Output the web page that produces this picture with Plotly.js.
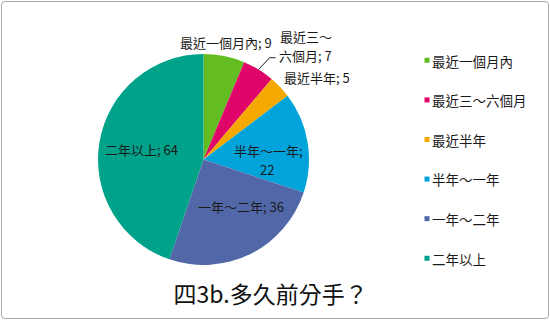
<!DOCTYPE html>
<html><head><meta charset="utf-8">
<script src="https://cdn.plot.ly/plotly-3.0.1.min.js"></script>
<style>
html,body{margin:0;padding:0;background:#fff}
#wrap{position:relative;width:550px;height:321px;overflow:hidden}
#chart{width:550px;height:321px}
#frame{position:absolute;left:1px;top:1px;width:546px;height:316px;border:1px solid #a9a9a9;border-radius:4px;pointer-events:none}
</style>
</head><body><div id="wrap"><div id="chart"></div><div id="frame"></div></div>
<script>
const categories = ['最近一個月內','最近三～六個月','最近半年','半年～一年','一年～二年','二年以上'];
const values = [9, 7, 5, 22, 36, 64];
const dataLabels = ['最近一個月內; 9','最近三～<br>六個月; 7','最近半年; 5','半年～一年;<br>22','一年～二年; 36','二年以上; 64'];
const colors = ['#63bd22','#df0569','#f4a800','#00a3da','#5267a8','#00a28a'];
const chartTitle = '四3b.多久前分手？';

const FONT = '"Noto Sans CJK TC", "Noto Sans", sans-serif';
const W = 550, H = 321;
const dom = {x: [98/W, 309/W], y: [55/H, 268/H]};

const trace = {
  type: 'pie',
  labels: categories,
  values: values,
  textinfo: 'none',
  hoverinfo: 'label+value',
  sort: false,
  direction: 'clockwise',
  rotation: 0,
  marker: {colors: colors, line: {width: 0}},
  domain: dom
};

// label placement along each slice's mid angle (derived from the values)
const cx = (dom.x[0] + dom.x[1]) / 2 * W;
const cy = (1 - (dom.y[0] + dom.y[1]) / 2) * H;
const R = Math.min((dom.x[1] - dom.x[0]) * W, (dom.y[1] - dom.y[0]) * H) / 2;
const total = values.reduce((a, b) => a + b, 0);
// style per label: radius fraction, anchor, per-line pixel shifts, optional leader line offsets
const place = [
  {rf: 1.0,  anchor: 'center', lines: [[2, 13.5]]},
  {rf: 1.0,  anchor: 'left',   lines: [[20.3, 32.6], [19.4, 13.6]], leader: [[11, -11.8], [17, -11.8]]},
  {rf: 1.0,  anchor: 'left',   lines: [[2.7, 9]]},
  {rf: 0.62, anchor: 'center', lines: [[0.3, -1.7], [-0.9, -20.7]]},
  {rf: 0.56, anchor: 'center', lines: [[10.7, 6]]},
  {rf: 0.6,  anchor: 'center', lines: [[0, 0]]}
];
const annotations = [];
const shapes = [];
let cum = 0;
values.forEach(function (v, i) {
  const mid = (cum + v / 2) / total * 2 * Math.PI;
  cum += v;
  const p = place[i];
  const px = cx + p.rf * R * Math.sin(mid);
  const py = cy - p.rf * R * Math.cos(mid);
  dataLabels[i].split('<br>').forEach(function (line, k) {
    annotations.push({
      x: px / W, y: 1 - py / H, xref: 'paper', yref: 'paper',
      text: line, showarrow: false, xanchor: p.anchor, yanchor: 'middle',
      xshift: p.lines[k][0], yshift: p.lines[k][1], borderpad: 0,
      font: {family: FONT, size: 13, color: '#1a1a1a'}
    });
  });
  if (p.leader) {
    let d = 'M' + (px / W) + ',' + (1 - py / H);
    p.leader.forEach(function (o) {
      d += ' L' + ((px + o[0]) / W) + ',' + (1 - (py + o[1]) / H);
    });
    shapes.push({type: 'path', xref: 'paper', yref: 'paper', path: d,
                 line: {color: '#222', width: 1}});
  }
});

const layout = {
  width: W, height: H,
  margin: {l: 0, r: 0, t: 0, b: 0},
  paper_bgcolor: '#fff',
  showlegend: true,
  font: {family: FONT, color: '#1a1a1a'},
  title: {text: chartTitle, font: {family: FONT, size: 23, color: '#111'},
          x: 0.492, xanchor: 'center', y: 1 - 295/H, yanchor: 'middle', yref: 'container'},
  legend: {x: 392/W, xanchor: 'left', y: 1 - 46/H, yanchor: 'top',
           font: {family: FONT, size: 13.5, color: '#1a1a1a'}, bgcolor: 'rgba(0,0,0,0)'},
  annotations: annotations,
  shapes: shapes
};

Plotly.newPlot('chart', [trace], layout, {staticPlot: true}).then(function (gd) {
  const sb = gd.querySelector('.legend .scrollbox');
  if (sb) sb.removeAttribute('clip-path');
  const items = gd.querySelectorAll('.legend .traces');
  let x0 = 0, y0 = 0;
  if (items.length) {
    const m = /translate\(([-\d.]+)[ ,]*([-\d.]+)?\)/.exec(items[0].getAttribute('transform') || '');
    if (m) { x0 = parseFloat(m[1]); y0 = parseFloat(m[2] || 0); }
  }
  items.forEach(function (g, i) {
    g.setAttribute('transform', 'translate(' + x0 + ',' + (y0 + i * 39.6) + ')');
    const p = g.querySelector('.legendpoints path');
    if (p) {
      p.setAttribute('d', 'M2.5,2.5H-2.5V-2.5H2.5Z');
      p.setAttribute('transform', 'translate(35,-1)');
    }
  });
});
</script>
</body></html>
